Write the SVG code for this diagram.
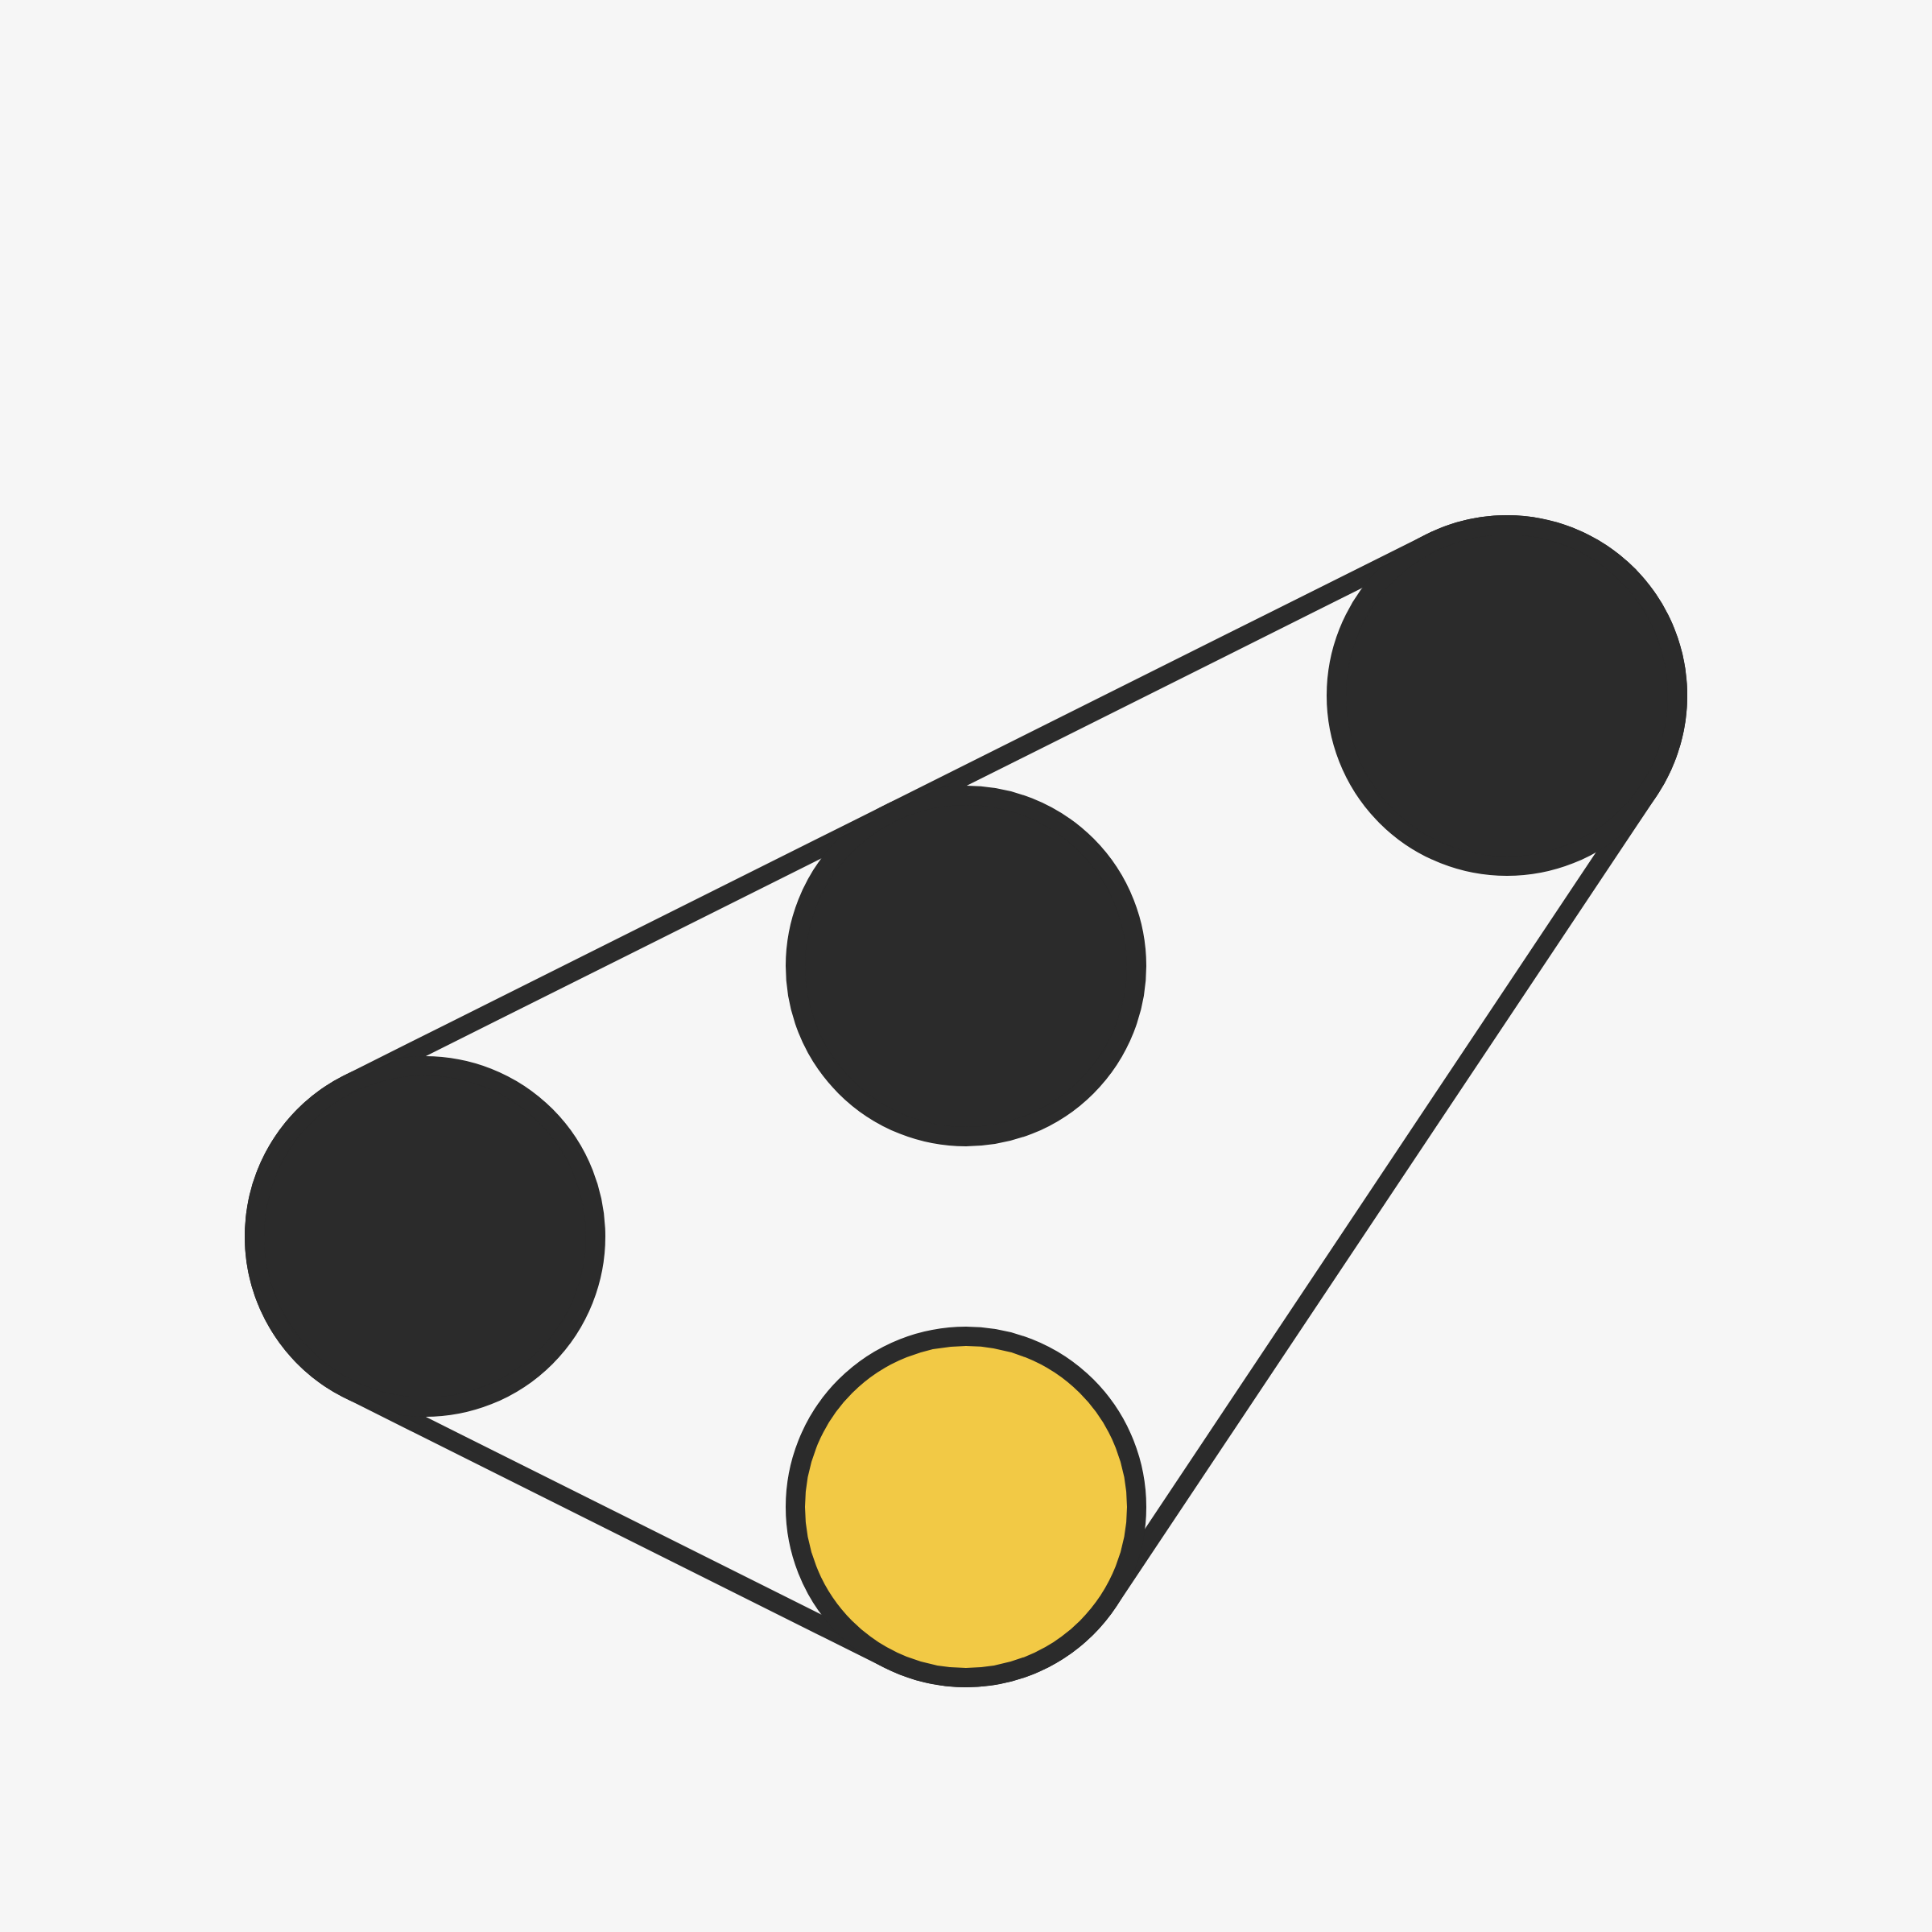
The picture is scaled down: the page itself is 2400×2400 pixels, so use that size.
<svg xmlns="http://www.w3.org/2000/svg" width="2400" height="2400" viewBox="0 0 2400 2400">
  <style>
    .pulley { fill: #2b2b2b; stroke: #2b2b2b; stroke-width: 24; }
    .idler { fill: #f2c945; stroke: #2b2b2b; stroke-width: 24; }
    .belt { fill: none; stroke: #2b2b2b; stroke-width: 24; stroke-linejoin: round; }
  </style>
  <rect x="0" y="0" width="2400" height="2400" fill="#f6f6f6"/>
  <g id="connectors">
    <path class="belt" d="M 433.2 1346.4 L 1777.2 674.4 A 212 212 0 0 1 2048.4 981.6 L 1376.4 1989.6 A 212 212 0 0 1 1105.2 2061.6 L 433.2 1725.6 A 212 212 0 0 1 433.2 1346.4 Z"/>
  </g>
  <g id="pulley-left">
    <circle class="pulley" cx="528" cy="1536" r="212"/>
  </g>
  <g id="pulley-middle">
    <circle class="pulley" cx="1200" cy="1200" r="212"/>
  </g>
  <g id="pulley-top-right">
    <circle class="pulley" cx="1872" cy="864" r="212"/>
  </g>
  <g id="pulley-bottom">
    <circle class="idler" cx="1200" cy="1872" r="212"/>
  </g>
</svg>
